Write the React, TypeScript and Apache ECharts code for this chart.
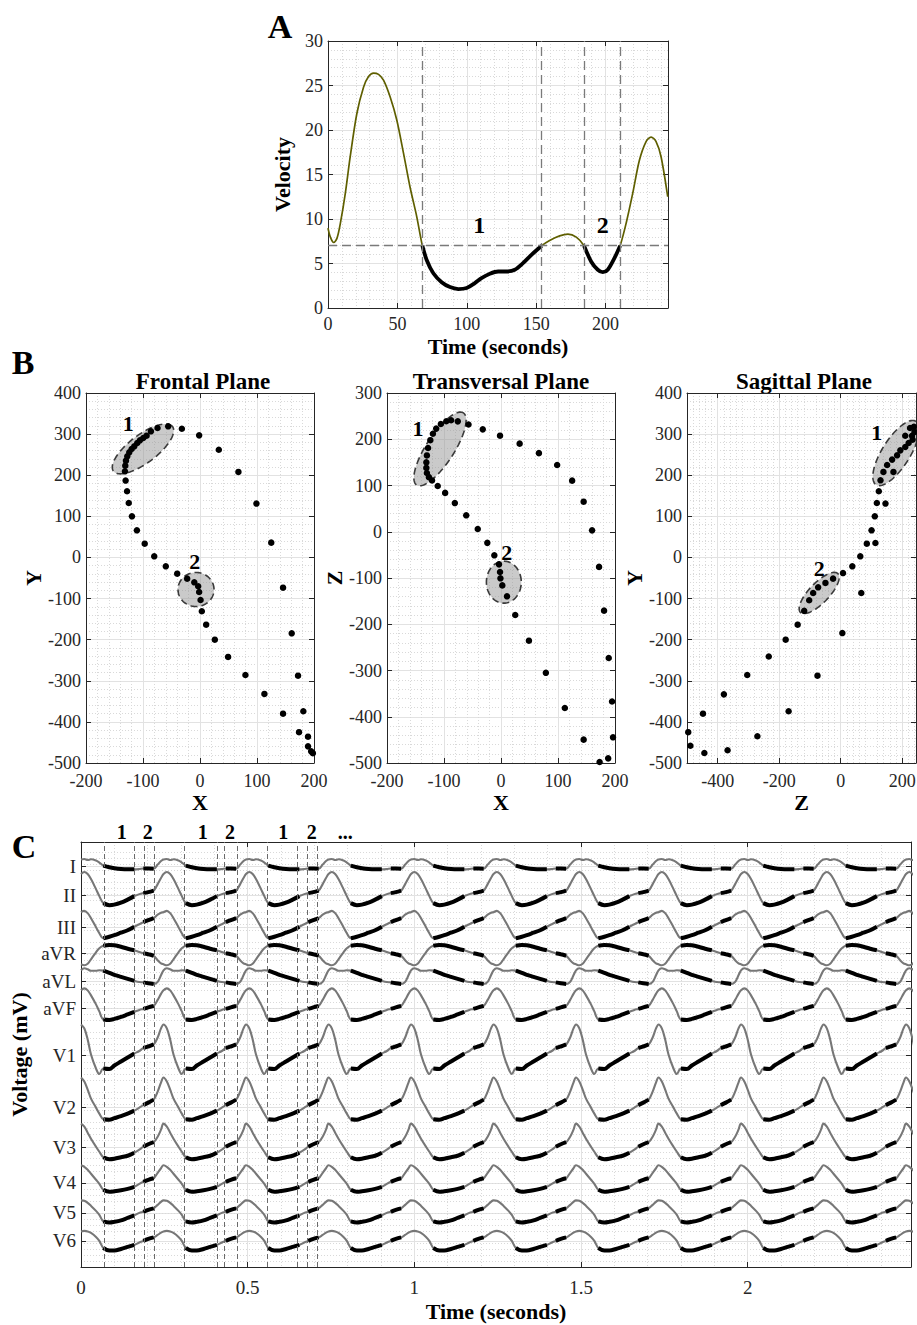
import React, { useEffect, useRef } from "react";
import * as echarts from "echarts";

const FONT = '"Liberation Serif", "Times New Roman", Times, serif';
const INK = "#262626";

// ---------------- Panel A : velocity ----------------
const velTime = [0, 1.7, 4.1, 6.5, 8.9, 12.5, 16, 20.8, 25.6, 29.2, 32.8, 36.4, 40, 44.8, 49.6, 54.4, 59.1, 63.9, 68, 71.1, 75.9, 81.9, 87.9, 93.9, 99.9, 105.8, 110.6, 116.6, 122.6, 128.6, 134.6, 140.5, 146.6, 154, 159.7, 166.9, 172.9, 178.9, 184.5, 189.7, 194.4, 198, 201.6, 206.4, 210.5, 214.8, 219.6, 224.4, 229.2, 232.8, 236.4, 240, 244.8];
const velValue = [8.97, 7.96, 7.36, 7.85, 9.5, 12.9, 17, 21.85, 24.8, 26.0, 26.4, 26.25, 25.6, 23.7, 21.1, 17.4, 13.6, 10.3, 7.0, 5.4, 3.9, 2.9, 2.35, 2.13, 2.24, 2.8, 3.36, 3.85, 4.1, 4.1, 4.3, 5.04, 5.98, 7.0, 7.58, 8.1, 8.3, 7.96, 7.0, 5.2, 4.3, 4.03, 4.3, 5.6, 7.0, 9.5, 12.9, 16.6, 18.7, 19.2, 18.7, 17, 12.5];
const velSegments = [[68, 154], [184.5, 210.5]];
const velThreshold = 7;
const velLabelTimes = [109, 198];
const velLabelValues = [9.3, 9.3];
const velLabelTexts = ["1", "2"];

// ---------------- Panel B : VCG planes ----------------
const frontalPoints = [
  [-131.7, 209.5], [-131.1, 223.2], [-129.9, 235.4], [-127.6, 245.9], [-124.1, 255.7], [-120, 263.8], [-115.3, 270.3],
  [-110.1, 278.4], [-105.4, 284.9], [-99.6, 290.5], [-93.7, 296.2], [-86.1, 306.8], [-74.5, 314.9], [-55.8, 318.9],
  [-31.8, 313], [-1.5, 297], [33, 262], [67.4, 208], [99, 131], [125, 36], [145.7, -73.5], [160.9, -184.6],
  [172, -287.6], [181.3, -374], [189.5, -436], [173.7, -425], [189.5, -459.5], [195, -471.6], [198, -476],
  [-130.5, 187], [-128, 161], [-125, 132.4], [-119.4, 100], [-110.7, 66], [-97, 33.5], [-80.3, 2.7], [-60, -21.6],
  [-40, -39.5], [-22.5, -51.6], [-10, -60.5], [-3.2, -70], [-1.5, -84], [1, -103.5], [3.2, -131], [10.8, -163.5],
  [26, -200], [49.3, -242], [79.7, -286], [113, -332], [145.7, -380],
];
const transversalPoints = [
  [-57, 232], [-75.8, 238.7], [-87.5, 241], [-96, 239], [-105.5, 233], [-113.7, 223], [-119.5, 212], [-124, 198],
  [-128, 181], [-130, 165], [-131, 150], [-131, 138], [-130, 127], [-126.5, 118], [-121, 111], [-111, 99], [-98, 84],
  [-81, 62], [-61, 35.5], [-40.8, 6], [-24, -24], [-11.7, -51], [-3.5, -70.5], [-1.7, -87], [-1, -100.7], [2.3, -116],
  [10.5, -139.6], [25, -180], [49, -235.5], [78.7, -305], [112, -381], [145, -449.5], [173, -497.8], [188, -490],
  [196.5, -444.5], [194.8, -367], [189, -273], [180.8, -170.6], [172, -76], [159.8, 3], [145, 65], [124.8, 110.5],
  [98.5, 144.3], [66.5, 170], [32.7, 190.5], [-1.7, 207.7], [-32, 221.4],
];
const sagittalPoints = [
  [-496, -425], [-489, -458], [-443.5, -475.7], [-448, -380], [-380, -333], [-368, -469], [-304, -286], [-271, -435],
  [-234, -241], [-169.4, -374], [-179, -200], [-140, -163.5], [-75.5, -287.6], [5.4, -184], [-118.7, -130],
  [-102.5, -104], [-89.6, -86.5], [-73.4, -72.7], [-49.6, -62], [-24.8, -51.6], [7.5, -38], [37.8, -21.6], [67, -86.5],
  [63.7, 2.7], [85, 33.5], [113, 35], [100.4, 66], [111, 100], [117.6, 132.4], [145.7, 131], [124, 161], [129.5, 187.6],
  [139, 208], [171.6, 208], [151, 225], [167.3, 238], [183.5, 248.4], [194, 260.5], [210, 268.6], [221, 278.4],
  [234, 286.5], [232, 296], [210, 296], [225.6, 315], [238, 318], [240, 305],
];
// regions: [centre x, centre y, axis-1 x, axis-1 y, axis-2 x, axis-2 y] in data units
const frontalRegions = [[-100, 264, 51.8, 54.2, -14.8, 27.2], [-7, -78, 31.6, 0, 0, 41.4]];
const transversalRegions = [[-107, 179, 41.0, 78.0, -20.5, 16.5], [5, -109, 0, 45.4, 30.6, 0]];
const sagittalRegions = [[180, 254, 64.9, 77.1, -38.3, 18.2], [-70, -86.5, 60.8, 47.2, -23.3, 16.9]];
const frontalLabels = [[-125.8, 327], [-9, -11]];
const transversalLabels = [[-145.8, 224], [10, -44]];
const sagittalLabels = [[117.6, 304], [-70, -28]];
const regionNames = ["1", "2"];

// ---------------- Panel C : 12-lead ECG ----------------
const leadNames = ["I", "II", "III", "aVR", "aVL", "aVF", "V1", "V2", "V3", "V4", "V5", "V6"];
const leadOffsets = [40.0, 37.1, 33.9, 31.3, 28.5, 25.8, 21.1, 15.9, 11.9, 8.4, 5.4, 2.6];
const beatPhase = [0, 10, 20, 30, 45, 55, 67, 85, 100, 120, 140, 160, 175, 187, 202, 218, 230, 240];
const beatPeriod = 247.5;
const beatCount = 11;
const ecgSegments = [[67, 160], [187, 218]];
const leadI = [0.65, 0.7, 0.6, 0.68, 0.55, 0.35, 0.05, -0.12, -0.22, -0.3, -0.33, -0.33, -0.3, -0.25, -0.25, -0.27, 0.15, 0.5];
const leadII = [2.1, 2.3, 2.1, 1.6, 0.6, -0.1, -0.8, -1.0, -0.95, -0.75, -0.45, -0.1, 0.1, 0.2, 0.3, 0.45, 1.1, 1.7];
const leadIII = [1.5, 1.63, 1.4, 0.9, 0.0, -0.6, -1.1, -0.95, -0.8, -0.55, -0.3, 0.05, 0.3, 0.5, 0.7, 0.9, 1.25, 1.45];
const leadAVR = [-1.1, -1.2, -1.05, -0.6, 0.1, 0.5, 0.75, 0.83, 0.8, 0.65, 0.45, 0.3, 0.12, 0.0, -0.1, -0.25, -0.7, -1.0];
const leadAVL = [1.1, 1.3, 1.2, 1.05, 1.05, 1.1, 1.07, 0.85, 0.65, 0.45, 0.25, 0.05, -0.07, -0.1, -0.2, -0.27, -0.05, 0.6];
const leadAVF = [1.8, 2.0, 1.8, 1.3, 0.4, -0.3, -1.1, -1.15, -1.05, -0.85, -0.6, -0.35, -0.15, -0.05, 0.1, 0.25, 0.85, 1.45];
const leadV1 = [3.1, 2.7, 1.6, 0.1, -1.3, -1.85, -1.3, -1.35, -1.0, -0.6, -0.2, 0.2, 0.45, 0.75, 0.9, 1.1, 1.8, 2.7];
const leadV2 = [3.0, 2.6, 1.8, 0.9, 0.0, -0.6, -1.15, -1.2, -1.05, -0.85, -0.6, -0.3, 0.0, 0.25, 0.5, 0.8, 1.6, 2.5];
const leadV3 = [2.4, 2.1, 1.5, 0.9, 0.1, -0.4, -0.95, -1.15, -1.1, -0.95, -0.8, -0.5, -0.2, 0.1, 0.35, 0.55, 1.1, 1.8];
const leadV4 = [1.75, 1.6, 1.3, 0.9, 0.3, -0.1, -0.7, -0.9, -0.85, -0.75, -0.6, -0.4, -0.1, 0.1, 0.3, 0.45, 1.0, 1.45];
const leadV5 = [1.25, 1.2, 1.0, 0.7, 0.2, -0.2, -0.85, -0.97, -0.9, -0.75, -0.5, -0.25, 0.0, 0.1, 0.3, 0.45, 0.8, 1.1];
const leadV6 = [0.95, 1.0, 0.95, 0.8, 0.4, 0.0, -0.7, -0.95, -0.95, -0.8, -0.6, -0.4, -0.15, 0.0, 0.2, 0.35, 0.6, 0.82];
const leadTemplates = [leadI, leadII, leadIII, leadAVR, leadAVL, leadAVF, leadV1, leadV2, leadV3, leadV4, leadV5, leadV6];
const markerTimes = [0.067, 0.16, 0.187, 0.219, 0.314, 0.405, 0.433, 0.465, 0.56, 0.65, 0.677, 0.707];
const topLabelTimes = [0.122, 0.2, 0.365, 0.447, 0.607, 0.692, 0.793];
const topLabelTexts = ["1", "2", "1", "2", "1", "2", "..."];
const TOP_LABEL_LEVEL = 43.35;

// ---------------- helpers ----------------
const majorLine = { show: true, lineStyle: { color: "#e2e2e2", width: 1 } };
const minorLine = { show: true, lineStyle: { color: "#d9d9d9", width: 1, type: [1, 2] } };
const nameStyle = (size: number) => ({ fontFamily: FONT, fontWeight: "bold", fontSize: size, color: "#000" });

function mainAxis(o: any) {
  const tick: any = { show: true, inside: true, length: 5, lineStyle: { color: INK, width: 1 } };
  if (o.tickValues) tick.customValues = o.tickValues;
  const label: any = { show: true, color: INK, fontFamily: FONT, fontSize: o.fontSize, margin: o.margin };
  if (o.tickValues) label.customValues = o.tickValues;
  if (o.hideMax) label.showMaxLabel = false;
  if (o.formatter) label.formatter = o.formatter;
  return {
    type: "value",
    gridIndex: o.grid,
    position: o.position,
    min: o.min,
    max: o.max,
    interval: o.interval,
    axisLine: { show: true, onZero: false, lineStyle: { color: INK, width: 1 } },
    axisTick: tick,
    axisLabel: label,
    splitLine: majorLine,
    minorTick: { show: false, splitNumber: o.minor },
    minorSplitLine: minorLine,
    name: o.name,
    nameLocation: "middle",
    nameGap: o.nameGap,
    nameTextStyle: nameStyle(o.nameSize || 22),
  };
}

function mirrorAxis(grid: number, position: string, min: number, max: number, interval: number, tickValues?: number[]) {
  const tick: any = { show: true, inside: true, length: 5, lineStyle: { color: INK, width: 1 } };
  if (tickValues) tick.customValues = tickValues;
  return {
    type: "value",
    gridIndex: grid,
    position,
    min,
    max,
    interval,
    axisLine: { show: true, onZero: false, lineStyle: { color: INK, width: 1 } },
    axisTick: tick,
    axisLabel: { show: false },
    splitLine: { show: false },
    minorSplitLine: { show: false },
  };
}

const ellipseRender = (_params: any, api: any) => {
  const cx = api.value(0), cy = api.value(1);
  const ux = api.value(2), uy = api.value(3), vx = api.value(4), vy = api.value(5);
  const pts: number[][] = [];
  for (let k = 0; k < 96; k++) {
    const a = (k / 96) * Math.PI * 2;
    pts.push(api.coord([cx + Math.cos(a) * ux + Math.sin(a) * vx, cy + Math.cos(a) * uy + Math.sin(a) * vy]));
  }
  return {
    type: "polygon",
    shape: { points: pts },
    style: { fill: "rgba(150,150,150,0.5)", stroke: "#3a3a3a", lineWidth: 1.6, lineDash: [7, 4] },
  };
};

function labelSeries(axis: number, pts: number[][], names: string[], size: number, clip = true) {
  return {
    type: "scatter",
    xAxisIndex: axis,
    yAxisIndex: axis,
    symbolSize: 1,
    clip,
    silent: true,
    z: 6,
    itemStyle: { color: "rgba(0,0,0,0)", opacity: 1 },
    label: { show: true, position: "inside", formatter: "{b}", fontFamily: FONT, fontWeight: "bold", fontSize: size, color: "#000" },
    data: pts.map((p, i) => ({ value: p, name: names[i] })),
  };
}

const inRanges = (v: number, ranges: number[][]) => ranges.some(([a, b]) => v >= a - 1e-9 && v <= b + 1e-9);

function leadData(i: number, segmentsOnly: boolean) {
  const out: (number | null)[][] = [];
  for (let k = 0; k < beatCount; k++) {
    beatPhase.forEach((p, j) => {
      const t = (k * beatPeriod + p) / 1000;
      const v = leadOffsets[i] + leadTemplates[i][j];
      out.push([t, segmentsOnly && !inRanges(p, ecgSegments) ? null : v]);
    });
  }
  return out;
}

function buildOption() {
  const grids = [
    { left: 328, top: 41, width: 340, height: 267 },
    { left: 86, top: 393, width: 228, height: 370 },
    { left: 387, top: 393, width: 228, height: 370 },
    { left: 687, top: 393, width: 229, height: 370 },
    { left: 81, top: 842, width: 830, height: 425 },
  ].map((g) => ({ ...g, show: false, containLabel: false, outerBoundsMode: "none" }));

  const xAxis = [
    mainAxis({ grid: 0, position: "bottom", min: 0, max: 245, interval: 50, minor: 5, fontSize: 18, margin: 7, hideMax: true, name: "Time (seconds)", nameGap: 27 }),
    mainAxis({ grid: 1, position: "bottom", min: -200, max: 200, interval: 100, minor: 5, fontSize: 18, margin: 9, name: "X", nameGap: 28 }),
    mainAxis({ grid: 2, position: "bottom", min: -200, max: 200, interval: 100, minor: 5, fontSize: 18, margin: 9, name: "X", nameGap: 28 }),
    mainAxis({ grid: 3, position: "bottom", min: -500, max: 245, interval: 100, minor: 5, fontSize: 18, margin: 9, tickValues: [-400, -200, 0, 200], name: "Z", nameGap: 28 }),
    mainAxis({ grid: 4, position: "bottom", min: 0, max: 2.49, interval: 0.5, minor: 5, fontSize: 19, margin: 11, hideMax: true, name: "Time (seconds)", nameGap: 33 }),
    mirrorAxis(0, "top", 0, 245, 50),
    mirrorAxis(1, "top", -200, 200, 100),
    mirrorAxis(2, "top", -200, 200, 100),
    mirrorAxis(3, "top", -500, 245, 100, [-400, -200, 0, 200]),
    mirrorAxis(4, "top", 0, 2.49, 0.5),
  ];
  const leadFormatter = (v: number) => {
    const i = leadOffsets.findIndex((o) => Math.abs(o - v) < 1e-6);
    return i >= 0 ? leadNames[i] : "";
  };
  const yAxis = [
    mainAxis({ grid: 0, position: "left", min: 0, max: 30, interval: 5, minor: 5, fontSize: 18, margin: 5, name: "Velocity", nameGap: 35 }),
    mainAxis({ grid: 1, position: "left", min: -500, max: 400, interval: 100, minor: 5, fontSize: 18, margin: 5, name: "Y", nameGap: 38 }),
    mainAxis({ grid: 2, position: "left", min: -500, max: 300, interval: 100, minor: 5, fontSize: 18, margin: 5, name: "Z", nameGap: 30 }),
    mainAxis({ grid: 3, position: "left", min: -500, max: 400, interval: 100, minor: 5, fontSize: 18, margin: 5, name: "Y", nameGap: 32 }),
    mainAxis({ grid: 4, position: "left", min: 0, max: 42.4, interval: 3, minor: 5, fontSize: 19, margin: 5, tickValues: leadOffsets, formatter: leadFormatter, name: "Voltage (mV)", nameGap: 47 }),
    mirrorAxis(0, "right", 0, 30, 5),
    mirrorAxis(1, "right", -500, 400, 100),
    mirrorAxis(2, "right", -500, 300, 100),
    mirrorAxis(3, "right", -500, 400, 100),
    mirrorAxis(4, "right", 0, 42.4, 3, leadOffsets),
  ];

  const dashed = (color: string, dash: number[], width: number) => ({
    silent: true,
    symbol: ["none", "none"],
    label: { show: false },
    lineStyle: { color, type: dash, width, opacity: 1 },
  });

  const series: any[] = [];
  // Panel A
  series.push({
    type: "line",
    xAxisIndex: 0,
    yAxisIndex: 0,
    data: velTime.map((t, i) => [t, velValue[i]]),
    smooth: 0.3,
    showSymbol: false,
    silent: true,
    z: 2,
    lineStyle: { color: "#5f5f00", width: 1.7 },
    markLine: {
      ...dashed("#7a7a7a", [9, 5], 1.3),
      data: [...velSegments.flat().map((x) => ({ xAxis: x })), { yAxis: velThreshold }],
    },
  });
  series.push({
    type: "line",
    xAxisIndex: 0,
    yAxisIndex: 0,
    data: velTime.map((t, i) => [t, inRanges(t, velSegments) ? velValue[i] : null]),
    smooth: 0.3,
    showSymbol: false,
    silent: true,
    z: 3,
    lineStyle: { color: "#000", width: 3.8 },
  });
  series.push(labelSeries(0, velLabelTimes.map((t, i) => [t, velLabelValues[i]]), velLabelTexts, 24));

  // Panel B
  const planes = [
    { axis: 1, pts: frontalPoints, regions: frontalRegions, labels: frontalLabels },
    { axis: 2, pts: transversalPoints, regions: transversalRegions, labels: transversalLabels },
    { axis: 3, pts: sagittalPoints, regions: sagittalRegions, labels: sagittalLabels },
  ];
  planes.forEach((pl) => {
    series.push({
      type: "custom",
      xAxisIndex: pl.axis,
      yAxisIndex: pl.axis,
      clip: true,
      silent: true,
      z: 1,
      encode: { x: 0, y: 1 },
      data: pl.regions,
      renderItem: ellipseRender,
    });
    series.push({
      type: "scatter",
      xAxisIndex: pl.axis,
      yAxisIndex: pl.axis,
      symbolSize: 6.5,
      silent: true,
      z: 3,
      itemStyle: { color: "#000", opacity: 1 },
      data: pl.pts,
    });
    series.push(labelSeries(pl.axis, pl.labels, regionNames, 22));
  });

  // Panel C
  leadNames.forEach((_n, i) => {
    const s: any = {
      type: "line",
      xAxisIndex: 4,
      yAxisIndex: 4,
      data: leadData(i, false),
      smooth: 0.35,
      showSymbol: false,
      silent: true,
      z: 2,
      lineStyle: { color: "#777777", width: 2.1 },
    };
    if (i === 0) {
      s.markLine = { ...dashed("#6a6a6a", [5, 3], 1), data: markerTimes.map((x) => ({ xAxis: x })) };
    }
    series.push(s);
    series.push({
      type: "line",
      xAxisIndex: 4,
      yAxisIndex: 4,
      data: leadData(i, true),
      smooth: 0.35,
      showSymbol: false,
      silent: true,
      z: 3,
      lineStyle: { color: "#000", width: 4 },
    });
  });
  series.push(labelSeries(4, topLabelTimes.map((t) => [t, TOP_LABEL_LEVEL]), topLabelTexts, 20, false));

  const letter = (text: string, x: number, y: number) => ({
    type: "text",
    silent: true,
    style: { text, x, y, textAlign: "center", textVerticalAlign: "middle", font: `bold 34px ${FONT}`, fill: "#000" },
  });
  const title = (text: string, x: number, y: number) => ({
    type: "text",
    silent: true,
    style: { text, x, y, textAlign: "center", textVerticalAlign: "middle", font: `bold 23px ${FONT}`, fill: "#000" },
  });

  return {
    animation: false,
    backgroundColor: "#fff",
    textStyle: { fontFamily: FONT },
    grid: grids,
    xAxis,
    yAxis,
    series,
    graphic: [
      letter("A", 280, 26),
      letter("B", 23, 362),
      letter("C", 24, 846),
      title("Frontal Plane", 203, 381),
      title("Transversal Plane", 501, 381),
      title("Sagittal Plane", 804, 381),
    ],
  };
}

export default function App() {
  const ref = useRef<HTMLDivElement>(null);
  useEffect(() => {
    if (!ref.current) return;
    const chart = echarts.init(ref.current, null, { renderer: "svg" });
    chart.setOption(buildOption() as any);
    return () => chart.dispose();
  }, []);
  return (
    <div
      ref={ref}
      style={{ position: "absolute", left: 0, top: 0, width: 917, height: 1325, background: "#fff" }}
    />
  );
}
